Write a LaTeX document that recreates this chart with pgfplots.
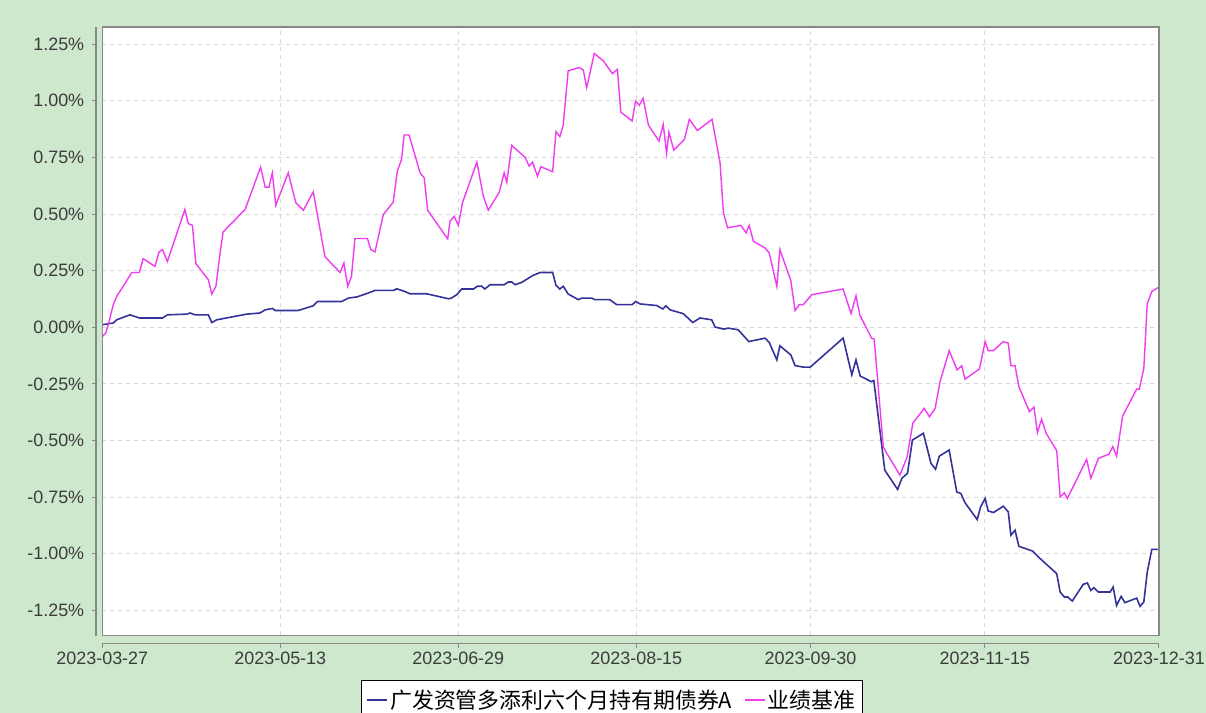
\documentclass[border=0pt]{standalone}
\usepackage{pgfplots}
\pgfplotsset{compat=1.18}
\usepackage{fontspec}
\setmainfont{Liberation Sans}
\newfontfamily\cjk{Noto Sans CJK SC}
\definecolor{bg}{RGB}{205,232,205}
\definecolor{fundc}{RGB}{51,51,153}
\definecolor{benchc}{RGB}{240,60,240}
\definecolor{axgray}{RGB}{136,136,136}
\definecolor{lblc}{RGB}{60,60,60}
\definecolor{gridc}{RGB}{215,215,215}

\begin{document}
\begin{tikzpicture}
\path[use as bounding box] (0,0) rectangle (1206bp,713bp);
\clip (0,0) rectangle (1206bp,713bp);
\fill[bg] (0,0) rectangle (1206bp,713bp);
\begin{axis}[
  at={(102.3bp,77.5bp)}, anchor=south west,
  scale only axis, width=1056.7bp, height=608.5bp,
  xmin=0, xmax=279, ymin=-1.361, ymax=1.326,
  clip=false,
  axis lines=left,
  axis line style={-, axgray, line width=1.6bp},
  axis x line shift=8bp, axis y line shift=6.6bp,
  axis background/.style={fill=white},
  tick align=outside,
  major tick length=4bp,
  tick style={axgray, line width=1bp},
  xtick={0,47,94,141,187,233,279},
  xticklabels={2023-03-27,2023-05-13,2023-06-29,2023-08-15,2023-09-30,2023-11-15,2023-12-31},
  ytick={-1.25,-1,-0.75,-0.5,-0.25,0,0.25,0.5,0.75,1,1.25},
  yticklabels={-1.25\%,-1.00\%,-0.75\%,-0.50\%,-0.25\%,0.00\%,0.25\%,0.50\%,0.75\%,1.00\%,1.25\%},
  ticklabel style={font=\fontsize{18}{20}\selectfont, text=lblc},
  yticklabel style={xshift=-4bp},
  xticklabel style={yshift=-1bp},
  xmajorgrids, ymajorgrids,
  grid style={gridc, line width=1bp, dash pattern=on 4bp off 4bp},
  legend columns=2,
  legend style={at={(rel axis cs:0.4824,-0.0739)}, anchor=north, draw=black, line width=1bp, fill=white,
    font=\cjk\fontsize{22}{24}\selectfont, inner xsep=5bp, inner ysep=7bp,
    /tikz/every even column/.append style={column sep=10bp}},
  legend image code/.code={\draw[#1, line width=1.6bp] (0bp,0bp) -- (20bp,0bp);},
]
\addplot[fundc, line width=1.6bp] coordinates {
(0,0.011)(2.9,0.019)(3.8,0.033)(7.3,0.055)(9.8,0.041)(15.9,0.041)(17.2,0.055)(22.3,0.058)(23.2,0.063)(24.5,0.055)
(28.0,0.055)(28.9,0.021)(30.2,0.033)(38.1,0.058)(41.6,0.063)(43.0,0.077)(45.0,0.083)(45.6,0.074)(51.7,0.074)(55.7,0.095)
(56.8,0.114)(63.2,0.114)(65.0,0.129)(67.2,0.134)(70.2,0.151)(72.0,0.163)(77.0,0.163)(77.7,0.170)(79.9,0.158)(81.2,0.148)
(85.6,0.148)(91.4,0.126)(92.2,0.129)(93.6,0.144)(94.9,0.169)(98.0,0.169)(99.0,0.181)(100.2,0.181)(101.0,0.169)(102.4,0.188)
(106.1,0.188)(107.2,0.200)(108.1,0.200)(109.0,0.188)(110.7,0.198)(113.6,0.228)(115.6,0.242)(118.9,0.242)(119.8,0.185)(120.8,0.169)
(121.7,0.181)(123.0,0.147)(125.7,0.122)(126.6,0.129)(129.2,0.129)(130.1,0.122)(134.0,0.122)(135.8,0.100)(139.9,0.100)(140.8,0.114)
(142.0,0.103)(146.4,0.096)(148.0,0.081)(148.8,0.095)(149.9,0.077)(153.4,0.060)(155.9,0.021)(157.8,0.041)(160.9,0.033)(161.8,0.001)
(164.0,-0.008)(165.3,-0.004)(167.9,-0.011)(170.7,-0.063)(175.0,-0.048)(176.1,-0.067)(178.1,-0.144)(178.9,-0.082)(181.8,-0.122)(182.9,-0.169)
(185.1,-0.176)(186.9,-0.176)(195.6,-0.048)(197.9,-0.210)(199.0,-0.144)(200.1,-0.215)(203.0,-0.240)(203.7,-0.235)(206.6,-0.631)(210.0,-0.716)
(211.1,-0.667)(212.6,-0.645)(213.9,-0.498)(216.8,-0.468)(218.8,-0.601)(220.0,-0.627)(221.0,-0.569)(223.6,-0.542)(225.6,-0.727)(226.7,-0.734)
(227.8,-0.775)(231.0,-0.849)(231.9,-0.793)(233.1,-0.756)(233.9,-0.811)(235.3,-0.818)(237.9,-0.790)(239.2,-0.815)(239.9,-0.918)(241.0,-0.896)
(242.0,-0.967)(245.6,-0.988)(247.6,-1.021)(252.0,-1.088)(252.9,-1.169)(254.0,-1.191)(254.9,-1.191)(256.1,-1.209)(259.0,-1.135)(260.1,-1.129)
(261.0,-1.162)(261.8,-1.150)(263.0,-1.169)(266.1,-1.169)(266.9,-1.147)(267.8,-1.228)(269.0,-1.188)(270.0,-1.216)(273.1,-1.196)(274.0,-1.232)
(275.0,-1.213)(275.9,-1.081)(277.1,-0.981)(279,-0.981)
};
\addlegendentry{广发资管多添利六个月持有期债券A}
\addplot[benchc, line width=1.4bp] coordinates {
(0,-0.041)(0.9,-0.026)(1.8,0.026)(2.9,0.100)(3.8,0.136)(7.8,0.242)(9.8,0.242)(10.8,0.303)(13.9,0.269)(15.0,0.333)
(15.9,0.343)(17.2,0.291)(21.8,0.520)(22.7,0.458)(23.8,0.450)(24.7,0.281)(28.0,0.210)(28.9,0.147)(30.0,0.181)(31.1,0.328)
(31.9,0.421)(37.7,0.520)(41.8,0.707)(43.0,0.619)(44.0,0.619)(44.9,0.682)(45.8,0.539)(49.1,0.682)(51.1,0.550)(53.1,0.517)
(55.7,0.598)(58.8,0.311)(62.8,0.242)(63.8,0.284)(64.8,0.181)(65.8,0.225)(66.7,0.392)(70.0,0.392)(70.9,0.343)(72.0,0.333)
(74.2,0.498)(76.8,0.552)(77.9,0.689)(79.0,0.741)(79.7,0.849)(81.0,0.849)(83.9,0.682)(85.0,0.660)(85.9,0.517)(91.2,0.390)
(91.8,0.468)(92.9,0.490)(94.0,0.450)(95.1,0.550)(98.9,0.729)(100.6,0.579)(101.9,0.517)(104.8,0.596)(106.1,0.682)(106.8,0.641)
(108.1,0.803)(111.6,0.751)(112.7,0.712)(113.6,0.729)(114.9,0.667)(115.8,0.709)(118.9,0.687)(119.8,0.864)(120.8,0.842)(121.7,0.892)
(123.0,1.132)(125.9,1.147)(127.0,1.136)(127.9,1.058)(129.9,1.209)(132.3,1.176)(134.7,1.120)(136.0,1.139)(136.9,0.950)(139.9,0.911)
(140.8,0.999)(141.8,0.980)(142.8,1.011)(144.2,0.892)(147.0,0.822)(148.1,0.896)(149.0,0.768)(149.6,0.862)(150.9,0.782)(153.7,0.830)
(155.0,0.918)(157.1,0.869)(161.0,0.918)(163.1,0.727)(164.0,0.505)(165.1,0.439)(168.6,0.450)(170.0,0.417)(170.8,0.450)(171.9,0.380)
(175.0,0.350)(176.1,0.328)(178.1,0.181)(178.9,0.343)(181.8,0.206)(182.9,0.074)(184.0,0.100)(185.1,0.100)(187.3,0.144)(195.6,0.169)
(197.7,0.060)(199.0,0.139)(200.0,0.055)(203.1,-0.048)(203.8,-0.052)(206.2,-0.527)(206.9,-0.550)(210.6,-0.653)(212.5,-0.572)(214.0,-0.424)
(217.0,-0.358)(218.4,-0.395)(219.9,-0.358)(221.2,-0.240)(223.6,-0.103)(225.7,-0.188)(226.9,-0.170)(227.8,-0.229)(231.6,-0.184)(233.1,-0.063)
(233.9,-0.103)(235.3,-0.103)(237.9,-0.063)(239.2,-0.070)(239.9,-0.170)(241.0,-0.170)(242.0,-0.262)(244.8,-0.373)(246.0,-0.353)(246.9,-0.465)
(248.0,-0.406)(249.2,-0.468)(252.0,-0.545)(252.9,-0.749)(254.0,-0.731)(254.8,-0.756)(259.9,-0.583)(261.0,-0.667)(263.0,-0.579)(265.8,-0.560)
(266.8,-0.527)(267.8,-0.569)(269.4,-0.392)(273.1,-0.273)(273.8,-0.273)(275.0,-0.181)(275.9,0.104)(277.1,0.158)(279,0.178)
};
\addlegendentry{业绩基准}
\draw[axgray, line width=1.5bp] (rel axis cs:0,0) rectangle (rel axis cs:1,1);
\end{axis}
\end{tikzpicture}
\end{document}
